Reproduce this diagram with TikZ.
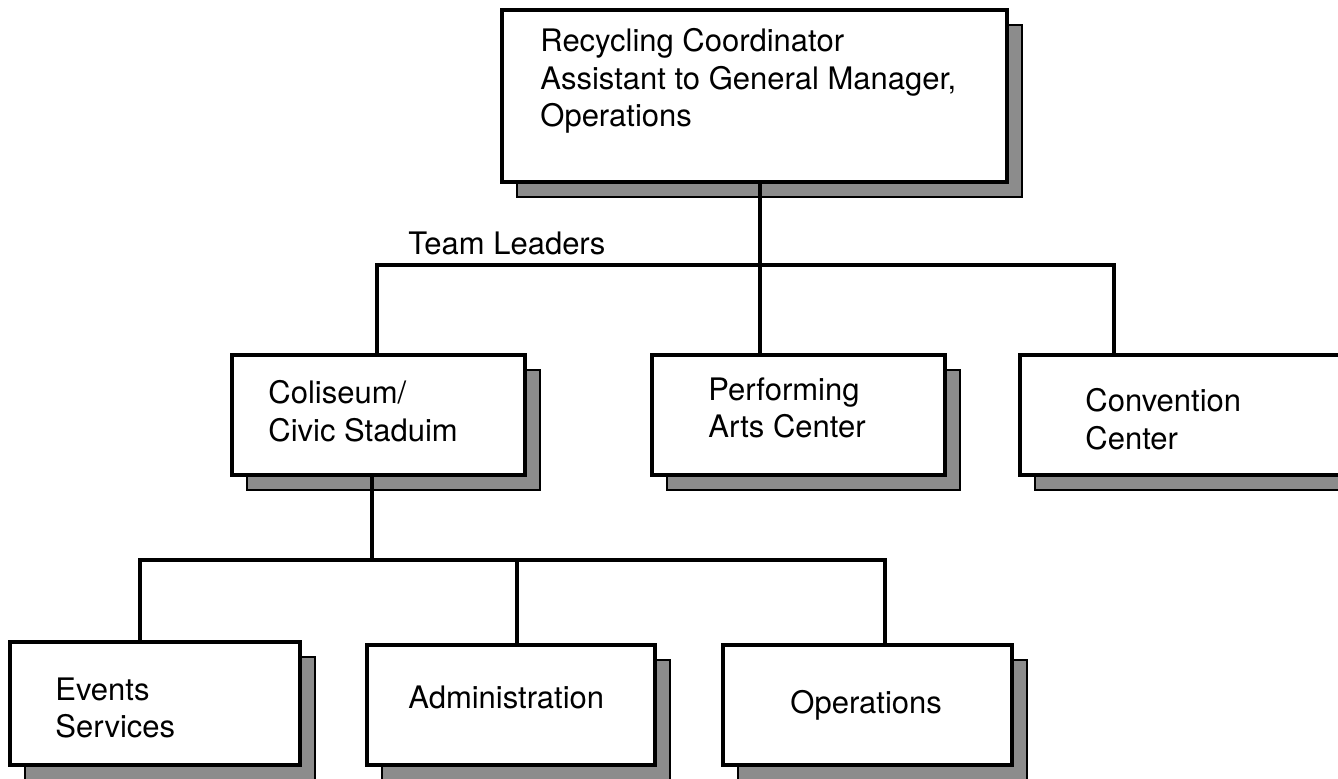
\documentclass[tikz,border=0pt]{standalone}
\usepackage{fontspec}
\setmainfont{TeX Gyre Heros}
\usetikzlibrary{shadows}
\begin{document}
\begin{tikzpicture}[x=0.5pt,y=-0.5pt,
  box/.style={draw=black, line width=1.8pt, fill=white, rectangle, inner sep=0pt,
    drop shadow={shadow xshift=7.5pt, shadow yshift=-7.5pt, fill=black!45, draw=black, line width=1.2pt, opacity=1}},
  conn/.style={line width=1.8pt},
  lbl/.style={font=\fontsize{15.5pt}{18.75pt}\selectfont, align=left, anchor=west, inner sep=0pt}]
\fill[white] (0,0) rectangle (1338,779);
\useasboundingbox (0,0) rectangle (1338,779);

% boxes
\node[box, minimum width=252.5pt, minimum height=86pt] (top) at (754.5,96) {};
\node[box, minimum width=146.5pt, minimum height=60pt] (col) at (378.5,415) {};
\node[box, minimum width=146.5pt, minimum height=60pt] (perf) at (798.5,415) {};
\node[box, minimum width=165pt, minimum height=60pt] (conv) at (1185,415) {};
\node[box, minimum width=145pt, minimum height=61.5pt] (events) at (155,703.5) {};
\node[box, minimum width=144pt, minimum height=60pt] (admin) at (511,705) {};
\node[box, minimum width=144.5pt, minimum height=60pt] (ops) at (867.5,705) {};

% texts
\node[lbl] (ttop) at (540,81) {Recycling Coordinator\\Assistant to General Manager,\\Operations};
\node[lbl] (tcol) at (268,411) {Coliseum/\\Civic Staduim};
\node[lbl] (tperf) at (708,408) {Performing\\Arts Center};
\node[lbl] (tconv) at (1085,419) {Convention\\Center};
\node[lbl] (tevents) at (55,708) {Events\\Services};
\node[lbl] (tadmin) at (408,697) {Administration};
\node[lbl] (tops) at (790,705) {Operations};
\node[lbl] (tteam) at (408,243) {Team Leaders};

% connectors
\coordinate (busL) at (377,265);
\coordinate (busR) at (1114,265);
\draw[conn] (top.south -| 760,0) -- (perf.north -| 760,0);
\draw[conn] (busL |- col.north) -- (busL) -- (busR) -- (busR |- conv.north);

\coordinate (bus2L) at (140,560);
\coordinate (bus2M) at (517,560);
\coordinate (bus2R) at (885,560);
\draw[conn] (col.south -| 372,0) -- (bus2M -| 372,0);
\draw[conn] (bus2L |- events.north) -- (bus2L) -- (bus2R) -- (bus2R |- ops.north);
\draw[conn] (bus2M) -- (bus2M |- admin.north);
\end{tikzpicture}
\end{document}
